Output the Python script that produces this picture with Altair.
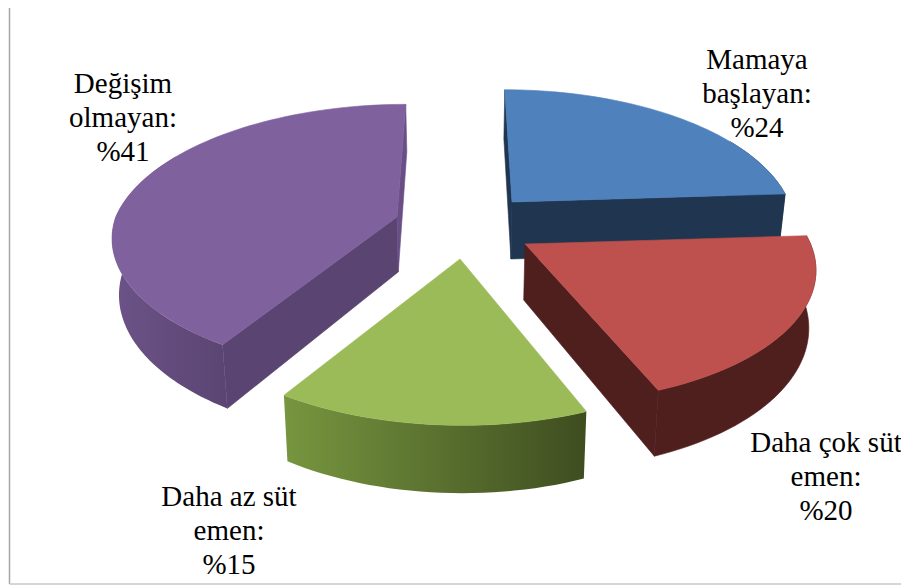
import math
import altair as alt

# Values (slice order clockwise from 12 o'clock)
shares = [24, 20, 15, 41]
label_lines = [
    ["Mamaya", "başlayan:", "%24"],
    ["Daha çok süt", "emen:", "%20"],
    ["Daha az süt", "emen:", "%15"],
    ["Değişim", "olmayan:", "%41"],
]

# Layout (page pixels)
label_centers = [757, 826, 229, 123]
label_first_baselines = [69, 452, 506, 93]
line_pitch = 34
apexes = [(512, 202), (525, 244), (460, 259), (397, 217)]
slice_scale = [0.965, 0.995, 1.0, 0.98]
y_scale = [1.0, 0.975, 1.0, 0.985]
front_offset = [52, 55, 12, 0]
depths = [57, 56, 57, 55]
R, S, K = 287, 130, 0.161
X0, Y0 = 460, 200
SHRINK = 0.98

top_colors = ["#4F81BD", "#BE504D", "#9BBB59", "#7F629D"]
cut_colors = ["#1F3550", "#4F1F1E", "#6E8C3E", "#5A4572"]
back_colors = ["#1F3550", "#4F1F1E", "#6E8C3E", "#6A4F86"]
outer_stops = [
    ("#1F3550", "#1F3550"),
    ("#4F1F1E", "#4F1F1E"),
    ("#77963F", "#3E4D20"),
    ("#6C5388", "#5A4572"),
]


def top_point(i, theta):
    cx, cy = apexes[i]
    u, v = math.sin(theta), -math.cos(theta)
    w = 1 - K * v
    d = (cx - X0) if v < 0 else front_offset[i]
    x = cx + slice_scale[i] * R * u / w + d * (1 / w - 1)
    y = cy + y_scale[i] * S * v / w + (cy - Y0) * (1 / w - 1)
    return x, y, w


def bottom_of(i, x, y, w):
    return X0 + (x - X0) * SHRINK, y + depths[i] / w


PROJ = dict(type="identity", scale=1, translate=[-8, -8])


def poly(points, fill, stroke=None):
    pts = [[round(p[0], 2), round(p[1], 2)] for p in points]
    pts.append(pts[0])
    feature = {"type": "Feature", "properties": {},
               "geometry": {"type": "Polygon", "coordinates": [pts]}}
    return (alt.Chart(alt.Data(values=[feature]))
            .mark_geoshape(fill=fill, stroke=stroke or fill, strokeWidth=0.6)
            .project(**PROJ))


layers = []
acc = 0
for i, share in enumerate(shares):
    t0 = math.radians(acc * 3.6)
    t1 = math.radians((acc + share) * 3.6)
    acc += share
    n = max(8, int(share * 2))
    thetas = [t0 + (t1 - t0) * k / n for k in range(n + 1)]
    arc = [top_point(i, t) for t in thetas]

    # outer wall: only the part facing the viewer
    lo = max(t0, math.radians(60))
    hi = min(t1, math.radians(300))
    if hi > lo:
        wall = [top_point(i, lo + (hi - lo) * k / n) for k in range(n + 1)]
        wall_poly = [(p[0], p[1]) for p in wall] + [bottom_of(i, *p) for p in reversed(wall)]
        c0, c1 = outer_stops[i]
        grad = alt.LinearGradient(gradient="linear", x1=0, y1=0, x2=1, y2=0,
                                  stops=[alt.GradientStop(color=c0, offset=0),
                                         alt.GradientStop(color=c1, offset=1)])
        layers.append(poly(wall_poly, grad, stroke=c1 if c0 == c1 else "transparent"))

    # radial cut walls, drawn only when they face the viewer
    apex = apexes[i]
    ab = bottom_of(i, apex[0], apex[1], 1.0)
    if math.sin(t0) < 1e-6:
        e = arc[0]
        col = back_colors[i] if abs(math.sin(t0)) < 1e-6 else cut_colors[i]
        layers.append(poly([apex, (e[0], e[1]), bottom_of(i, *e), ab], col))
    if math.sin(t1) > -1e-6:
        e = arc[-1]
        col = back_colors[i] if abs(math.sin(t1)) < 1e-6 else cut_colors[i]
        layers.append(poly([apex, (e[0], e[1]), bottom_of(i, *e), ab], col))

    # top face
    layers.append(poly([apex] + [(p[0], p[1]) for p in arc], top_colors[i]))

for cx, base, lines in zip(label_centers, label_first_baselines, label_lines):
    rows = [{"lon": cx, "lat": base + j * line_pitch, "txt": s} for j, s in enumerate(lines)]
    layers.append(
        alt.Chart(alt.Data(values=rows))
        .mark_text(font="Liberation Serif", fontSize=29, color="#000000",
                   align="center", baseline="alphabetic")
        .encode(longitude="lon:Q", latitude="lat:Q", text="txt:N")
        .project(**PROJ)
    )

frame_left = (alt.Chart(alt.Data(values=[{"a": 0}]))
              .mark_rule(color="#A6A6A6", strokeWidth=1.5)
              .encode(x=alt.value(1.5), y=alt.value(0), y2=alt.value(576)))
frame_bottom = (alt.Chart(alt.Data(values=[{"a": 0}]))
                .mark_rule(color="#C8C8C8", strokeWidth=1.5)
                .encode(x=alt.value(1.5), x2=alt.value(893), y=alt.value(576)))
layers += [frame_left, frame_bottom]

chart = (alt.layer(*layers)
         .properties(width=893, height=577, padding=0, background="white",
                     autosize=alt.AutoSizeParams(type="none"))
         .configure_view(stroke=None))

chart.save("out.html", embed_options={"renderer": "svg", "actions": False})
